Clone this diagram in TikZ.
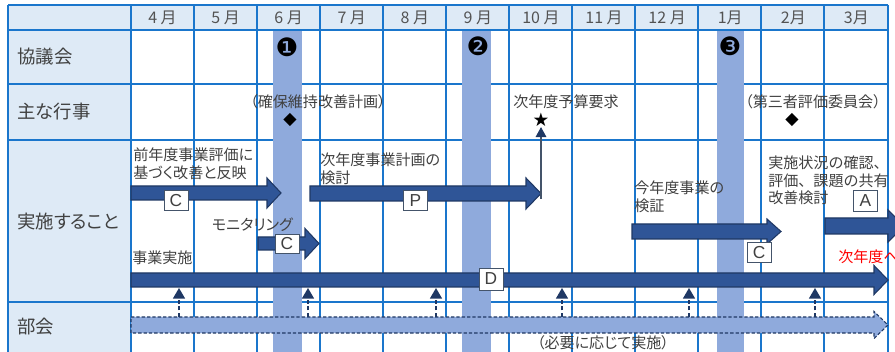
\documentclass[tikz,border=0pt]{standalone}
\usepackage{fontspec}
\setmainfont{Liberation Sans}
\newfontfamily\jp[RawFeature=+palt]{Noto Sans CJK JP}
\newfontfamily\jpm{Noto Sans CJK JP}
\newfontfamily\sym{DejaVu Sans}
\usetikzlibrary{arrows.meta}
\definecolor{gridc}{HTML}{1A76CC}
\definecolor{hdr}{HTML}{DEEAF6}
\definecolor{band}{HTML}{8FAADC}
\definecolor{arrf}{HTML}{2F5597}
\definecolor{arrd}{HTML}{1F3864}
\definecolor{txt}{HTML}{404040}
\definecolor{boxd}{HTML}{44546A}
\newcommand\blockarrow[7][]{%
 \draw[#1] (#2,#4-#5) -- (#3-#7,#4-#5) -- (#3-#7,#4-#6) -- (#3,#4) -- (#3-#7,#4+#6) -- (#3-#7,#4+#5) -- (#2,#4+#5) -- cycle;}
\begin{document}
\begin{tikzpicture}[x=0.75pt,y=-0.75pt,
  gridline/.style={draw=gridc,line width=1.1pt},
  rowlab/.style={anchor=west,inner sep=0pt,text=txt,font=\jp\fontsize{13.8}{16}\selectfont},
  monlab/.style={inner sep=0pt,text=txt!90,font=\jp\fontsize{12}{14}\selectfont},
  lab/.style={inner sep=0pt,text=txt,font=\jp\fontsize{11.3}{13.5}\selectfont},
  mlab/.style={lab,align=left,anchor=west},
  sym/.style={inner sep=0pt,font=\sym\fontsize{13}{15}\selectfont},
  num/.style={inner sep=0pt,font=\sym\fontsize{19}{21}\selectfont},
  bigarr/.style={fill=arrf,draw=arrd,line width=0.8pt},
  dasharr/.style={fill=band,draw=arrd,line width=0.8pt,dash pattern=on 2.5pt off 1.5pt},
  pdca/.style={draw=boxd,fill=white,line width=0.6pt,text=txt,inner sep=0pt,font=\fontsize{13}{15}\selectfont},
  uparr/.style={draw=arrd,line width=1.2pt,dash pattern=on 3pt off 2pt,-{Triangle[length=8pt,width=9pt]}},
  stararr/.style={draw=boxd,line width=0.8pt,-{Triangle[length=7.5pt,width=8pt,color=arrd]}}
]
\useasboundingbox (0,0) rectangle (895,352);
\clip (0,0) rectangle (895,352);
% backgrounds
\fill[hdr] (8,5) rectangle (888,30);
\fill[hdr] (8,30) rectangle (131,360);
% grid
\foreach \y in {5,30,84,140,302} \draw[gridline] (8,\y) -- (888,\y);
\foreach \x in {8,131,194,257,320,383,446,509,572,635,698,761,824,888} \draw[gridline] (\x,5) -- (\x,360);
% bands
\fill[band] (273,31) rectangle (302,360);
\fill[band] (462,31) rectangle (491,360);
\fill[band] (717,31) rectangle (744,360);
% header
\foreach \m [count=\i] in {4 月,5 月,6 月,7 月,8 月,9 月,10 月,11 月,12 月,1月,2月,3月}
  \node[monlab] (h\i) at ({131+63.08*(\i-1)+31.5},18) {\m};
% row labels
\node[rowlab] (r1) at (17,57) {協議会};
\node[rowlab] (r2) at (17,112) {主な行事};
\node[rowlab] (r3) at (17,222) {実施すること};
\node[rowlab] (r4) at (17,327) {部会};
% council
\node[num] (n1) at (287,47) {❶};
\node[num] (n2) at (478,46) {❷};
\node[num] (n3) at (730,46) {❸};
% events
\node[lab] (e1) at (318,102) {（確保維持改善計画）};
\node[sym] (d1) at (290,120) {◆};
\node[lab,anchor=west] (e2) at (513,102) {次年度予算要求};
\node[sym,font=\sym\fontsize{14}{16}\selectfont] (st) at (541,120) {★};
\node[lab] (e3) at (813,102) {（第三者評価委員会）};
\node[sym] (d2) at (792,120) {◆};
% arrows row 3
\blockarrow[bigarr]{131}{281}{193}{7}{15}{14}
\blockarrow[bigarr]{258}{319}{243.5}{6.5}{15}{14}
\blockarrow[bigarr]{310}{541}{193.5}{7.5}{15.5}{15}
\blockarrow[bigarr]{632}{781}{231.5}{7.5}{12.5}{14}
\blockarrow[bigarr]{825}{904}{226}{8}{16}{16}
\blockarrow[bigarr]{131}{888}{280}{7}{14.5}{14}
\blockarrow[dasharr]{131}{888}{325}{8}{13.5}{14}
% labels row 3
\node[mlab] (t1) at (133,164) {前年度事業評価に\\基づく改善と反映};
\node[lab,anchor=east] (t2) at (293,225) {モニタリング};
\node[mlab] (t3) at (320,169) {次年度事業計画の\\検討};
\node[mlab] (t4) at (634,196.5) {今年度事業の\\検証};
\node[mlab,font=\jpm\fontsize{11.3}{13.2}\selectfont] (t5) at (768,180.5) {実施状況の確認、\\評価、課題の共有\\改善検討};
\node[lab,anchor=west] (t6) at (132,258) {事業実施};
\node[lab,anchor=west,text=red] (t7) at (838,257) {次年度へ};
\node[lab] (t8) at (603,343) {（必要に応じて実施）};
% PDCA boxes
\node[pdca,minimum width=18pt,minimum height=15.5pt] (c1) at (176,200.5) {C};
\node[pdca,minimum width=18pt,minimum height=14.5pt] (c2) at (287,244) {C};
\node[pdca,minimum width=18.5pt,minimum height=15.5pt] (p1) at (415.5,200.5) {P};
\node[pdca,minimum width=18pt,minimum height=15.5pt] (c3) at (759,252.5) {C};
\node[pdca,minimum width=18.5pt,minimum height=16pt] (a1) at (865.5,201) {A};
\node[pdca,minimum width=18pt,minimum height=16.5pt] (dd) at (491,279) {D};
% star arrow
\coordinate (ps) at (541,199);
\draw[stararr] (ps) -- (st.south);
% dashed up arrows
\foreach \x [count=\i] in {179,308,436,562,689,815} {
  \coordinate (us\i) at (\x,317);
  \coordinate (ue\i) at (\x,288);
  \draw[uparr] (us\i) -- (ue\i);
}
\end{tikzpicture}
\end{document}
